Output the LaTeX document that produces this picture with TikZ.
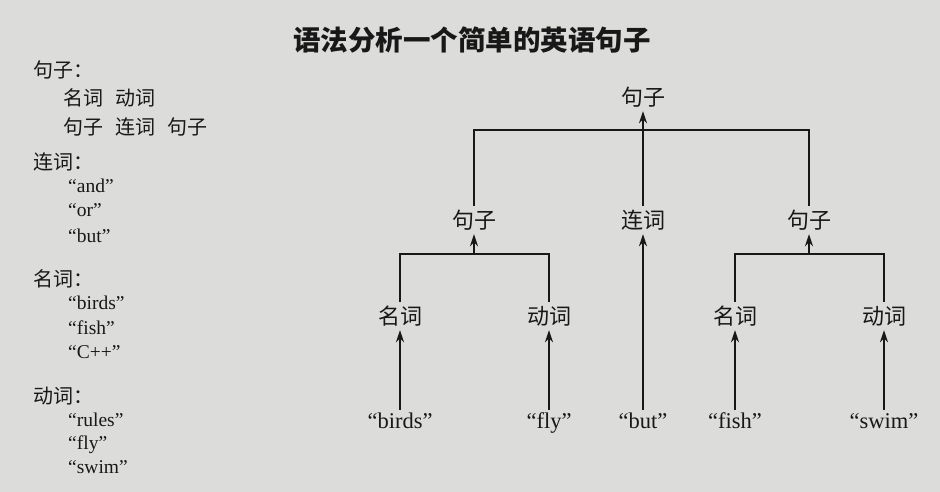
\documentclass[tikz,border=0pt]{standalone}
\usepackage{fontspec}
\setmainfont{Liberation Serif}
\newfontfamily\cjk{Noto Sans CJK SC}
\usetikzlibrary{arrows.meta}
\definecolor{bg}{RGB}{220,220,218}
\definecolor{ink}{RGB}{24,24,24}
\begin{document}
\begin{tikzpicture}[x=1pt,y=-1pt,
  title/.style={font=\cjk\bfseries\fontsize{27.5}{28}\selectfont, inner sep=0pt, text=ink},
  zh/.style={font=\cjk\fontsize{22}{22}\selectfont, inner sep=0pt, text height=18.1pt, text depth=1.9pt, minimum height=28pt, text=ink},
  en/.style={font=\fontsize{22.5}{23}\selectfont, inner sep=0pt, text height=15.5pt, text depth=2pt, minimum height=24pt, text=ink},
  lzh/.style={font=\cjk\fontsize{20}{20}\selectfont, anchor=west, inner sep=0pt, text height=16.4pt, text depth=1.6pt, text=ink},
  len/.style={font=\fontsize{19.5}{20}\selectfont, anchor=west, inner sep=0pt, text height=13.5pt, text depth=1.8pt, text=ink},
  edge/.style={draw=ink, line width=2pt},
  arr/.style={edge, -{Stealth[length=12pt,width=8pt]}},
]
\fill[bg] (0,0) rectangle (940,492);
\useasboundingbox (0,0) rectangle (940,492);

\node[title] (title) at (472,40) {语法分析一个简单的英语句子};

% left column
\node[lzh] (r1) at (33,70) {句子：};
\node[lzh] (r1a) at (63,98) {名词\hspace{0.6em}动词};
\node[lzh] (r1b) at (63,127) {句子\hspace{0.6em}连词\hspace{0.6em}句子};
\node[lzh] (r2) at (33,162) {连词：};
\node[len] (r2a) at (68,187) {“and”};
\node[len] (r2b) at (68,211) {“or”};
\node[len] (r2c) at (68,237) {“but”};
\node[lzh] (r3) at (33,279) {名词：};
\node[len] (r3a) at (68,304) {“birds”};
\node[len] (r3b) at (68,329) {“fish”};
\node[len] (r3c) at (68,353) {“C++”};
\node[lzh] (r4) at (33,396) {动词：};
\node[len] (r4a) at (68,421) {“rules”};
\node[len] (r4b) at (68,444) {“fly”};
\node[len] (r4c) at (68,468) {“swim”};

% tree
\node[zh] (S0) at (643,97) {句子};
\node[zh] (S1) at (474,220) {句子};
\node[zh] (C)  at (643,220) {连词};
\node[zh] (S2) at (809,220) {句子};
\node[zh] (N1) at (400,316) {名词};
\node[zh] (V1) at (549,316) {动词};
\node[zh] (N2) at (735,316) {名词};
\node[zh] (V2) at (884,316) {动词};
\node[en] (w1) at (400,422) {“birds”};
\node[en] (w2) at (549,422) {“fly”};
\node[en] (w3) at (643,422) {“but”};
\node[en] (w4) at (735,422) {“fish”};
\node[en] (w5) at (884,422) {“swim”};

\coordinate (b0) at (643,130);
\coordinate (b1) at (474,254);
\coordinate (b2) at (809,254);

\draw[edge] (S1.north) |- (b0) -| (S2.north);
\draw[arr] (C.north) -- (S0.south);
\draw[edge] (N1.north) |- (b1) -| (V1.north);
\draw[arr] (b1) -- (S1.south);
\draw[edge] (N2.north) |- (b2) -| (V2.north);
\draw[arr] (b2) -- (S2.south);
\draw[arr] (w1.north) -- (N1.south);
\draw[arr] (w2.north) -- (V1.south);
\draw[arr] (w3.north) -- (C.south);
\draw[arr] (w4.north) -- (N2.south);
\draw[arr] (w5.north) -- (V2.south);
\end{tikzpicture}
\end{document}
